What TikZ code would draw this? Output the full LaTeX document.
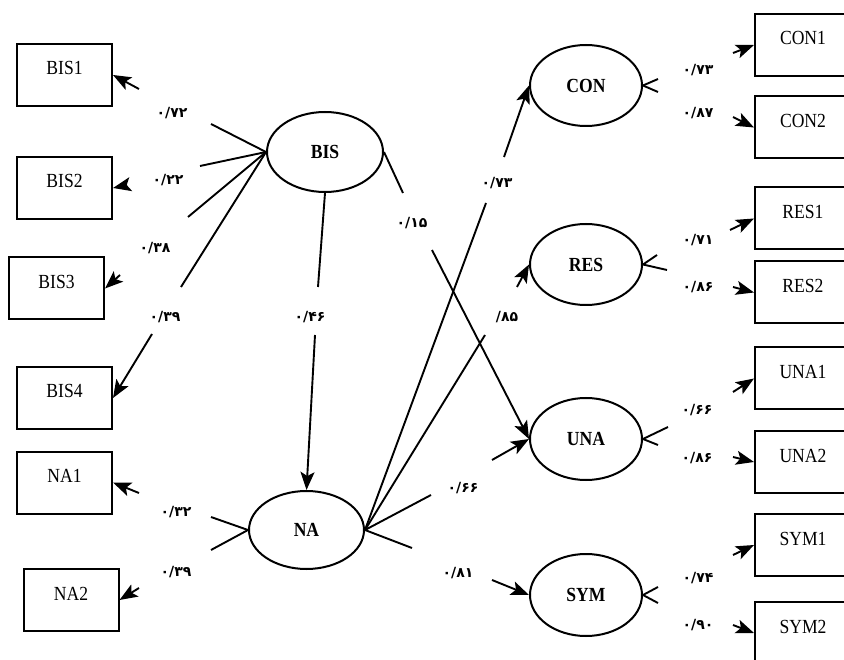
\documentclass[tikz,border=0pt]{standalone}
\usepackage{fontspec}
\setmainfont{Liberation Serif}
\newfontfamily\boxfont[FakeStretch=0.88]{Liberation Serif}
\newfontfamily\fafont{DejaVu Sans}
\usetikzlibrary{shapes.geometric,arrows.meta}
\begin{document}
\begin{tikzpicture}[x=1pt,y=-1pt,
 every node/.style={inner sep=0pt},
 obs/.style={draw,line width=2pt,rectangle,minimum width=95pt,minimum height=62pt,
   font=\boxfont\fontsize{20}{22}\selectfont,text height=14pt,text depth=14pt},
 lat/.style={draw,line width=2pt,ellipse,minimum width=114pt,minimum height=80pt,
   font=\boxfont\fontsize{20}{22}\selectfont\bfseries},
 coef/.style={font=\fafont\bfseries\fontsize{14}{16}\selectfont},
 ln/.style={line width=1.9pt},
 ar/.style={line width=1.9pt,-{Stealth[length=18pt,width=14pt,inset=4pt]}}
]
\useasboundingbox (0,0) rectangle (844,660);
% observed indicators, left
\node[obs] (bis1) at (64.5,75) {BIS1};
\node[obs] (bis2) at (64.5,188) {BIS2};
\node[obs] (bis3) at (56.5,288.5) {BIS3};
\node[obs] (bis4) at (64.5,398) {BIS4};
\node[obs] (na1) at (64.5,482.5) {NA1};
\node[obs] (na2) at (71,600) {NA2};
% observed indicators, right
\node[obs,minimum width=96pt] (con1) at (803,45) {CON1};
\node[obs,minimum width=96pt] (con2) at (803,127.5) {CON2};
\node[obs,minimum width=96pt] (res1) at (803,218.5) {RES1};
\node[obs,minimum width=96pt] (res2) at (803,292.5) {RES2};
\node[obs,minimum width=96pt] (una1) at (803,378.5) {UNA1};
\node[obs,minimum width=96pt] (una2) at (803,462) {UNA2};
\node[obs,minimum width=96pt] (sym1) at (803,545) {SYM1};
\node[obs,minimum width=96pt] (sym2) at (803,633) {SYM2};
% latent variables
\node[lat,minimum width=116pt] (BIS) at (325,152) {BIS};
\node[lat,minimum width=115pt,minimum height=78pt] (NA) at (306.5,530) {NA};
\node[lat,minimum width=112pt,minimum height=81pt] (CON) at (586,85.5) {CON};
\node[lat,minimum width=112pt,minimum height=81pt] (RES) at (586,264.5) {RES};
\node[lat,minimum width=112pt,minimum height=82pt] (UNA) at (586,439) {UNA};
\node[lat,minimum width=112pt,minimum height=82pt] (SYM) at (586,595) {SYM};
% break points
\coordinate (b1a) at (211,124); \coordinate (b1b) at (139,89);
\coordinate (b2a) at (200,166); \coordinate (b2b) at (127,185);
\coordinate (b3a) at (188,217); \coordinate (b3b) at (120,275);
\coordinate (b4a) at (181,287); \coordinate (b4b) at (152,334);
\coordinate (n1a) at (211,517); \coordinate (n1b) at (139,493);
\coordinate (n2a) at (211,550); \coordinate (n2b) at (139,588);
\coordinate (bna) at (318,287); \coordinate (bnb) at (315,335);
\coordinate (bua) at (403,193); \coordinate (bub) at (432,250);
\coordinate (nca) at (486,203); \coordinate (ncb) at (504,157);
\coordinate (nra) at (485,335); \coordinate (nrb) at (517,287);
\coordinate (nua) at (431,495); \coordinate (nub) at (492,460);
\coordinate (nsa) at (412,548); \coordinate (nsb) at (492,580);
\coordinate (c1a) at (658,79); \coordinate (c1b) at (733,53);
\coordinate (c2a) at (658,92); \coordinate (c2b) at (733,117);
\coordinate (r1a) at (657,255); \coordinate (r1b) at (730,230);
\coordinate (r2a) at (667,270); \coordinate (r2b) at (733,287);
\coordinate (u1a) at (668,427); \coordinate (u1b) at (733,392);
\coordinate (u2a) at (658,445); \coordinate (u2b) at (733,457);
\coordinate (s1a) at (658,587); \coordinate (s1b) at (733,555);
\coordinate (s2a) at (658,603); \coordinate (s2b) at (733,625);
% BIS loadings
\draw[ln] (BIS.west) -- (b1a); \draw[ar] (b1b) -- (bis1.east);
\draw[ln] (BIS.west) -- (b2a); \draw[ar] (b2b) -- (bis2.east);
\draw[ln] (BIS.west) -- (b3a); \draw[ar] (b3b) -- (bis3.east);
\draw[ln] (BIS.west) -- (b4a); \draw[ar] (b4b) -- (bis4.east);
% NA loadings
\draw[ln] (NA.west) -- (n1a); \draw[ar] (n1b) -- (na1.east);
\draw[ln] (NA.west) -- (n2a); \draw[ar] (n2b) -- (na2.east);
% structural paths
\draw[ln] (BIS.south) -- (bna); \draw[ar] (bnb) -- (NA.north);
\draw[ln] (BIS.east) -- (bua); \draw[ar] (bub) -- (UNA.west);
\draw[ln] (NA.east) -- (nca); \draw[ar] (ncb) -- (CON.west);
\draw[ln] (NA.east) -- (nra); \draw[ar] (nrb) -- (RES.west);
\draw[ln] (NA.east) -- (nua); \draw[ar] (nub) -- (UNA.west);
\draw[ln] (NA.east) -- (nsa); \draw[ar] (nsb) -- (SYM.west);
% right loadings
\draw[ln] (CON.east) -- (c1a); \draw[ar] (c1b) -- (con1.west);
\draw[ln] (CON.east) -- (c2a); \draw[ar] (c2b) -- (con2.west);
\draw[ln] (RES.east) -- (r1a); \draw[ar] (r1b) -- (res1.west);
\draw[ln] (RES.east) -- (r2a); \draw[ar] (r2b) -- (res2.west);
\draw[ln] (UNA.east) -- (u1a); \draw[ar] (u1b) -- (una1.west);
\draw[ln] (UNA.east) -- (u2a); \draw[ar] (u2b) -- (una2.west);
\draw[ln] (SYM.east) -- (s1a); \draw[ar] (s1b) -- (sym1.west);
\draw[ln] (SYM.east) -- (s2a); \draw[ar] (s2b) -- (sym2.west);
% coefficients
\node[coef] (l1) at (172,113) {۰/۷۲};
\node[coef] (l2) at (168,180) {۰/۲۲};
\node[coef] (l3) at (155,248) {۰/۳۸};
\node[coef] (l4) at (165,317) {۰/۳۹};
\node[coef] (l5) at (176,512) {۰/۳۲};
\node[coef] (l6) at (176,572) {۰/۳۹};
\node[coef] (l7) at (310,317) {۰/۴۶};
\node[coef] (l8) at (412,223) {۰/۱۵};
\node[coef] (l9) at (497,183) {۰/۷۳};
\node[coef] (l10) at (507,317) {/۸۵};
\node[coef] (l11) at (463,488) {۰/۶۶};
\node[coef] (l12) at (458,573) {۰/۸۱};
\node[coef] (l13) at (698,70) {۰/۷۳};
\node[coef] (l14) at (698,113) {۰/۸۷};
\node[coef] (l15) at (698,240) {۰/۷۱};
\node[coef] (l16) at (698,287) {۰/۸۶};
\node[coef] (l17) at (697,410) {۰/۶۶};
\node[coef] (l18) at (697,458) {۰/۸۶};
\node[coef] (l19) at (698,578) {۰/۷۴};
\node[coef] (l20) at (698,625) {۰/۹۰};
\end{tikzpicture}
\end{document}
